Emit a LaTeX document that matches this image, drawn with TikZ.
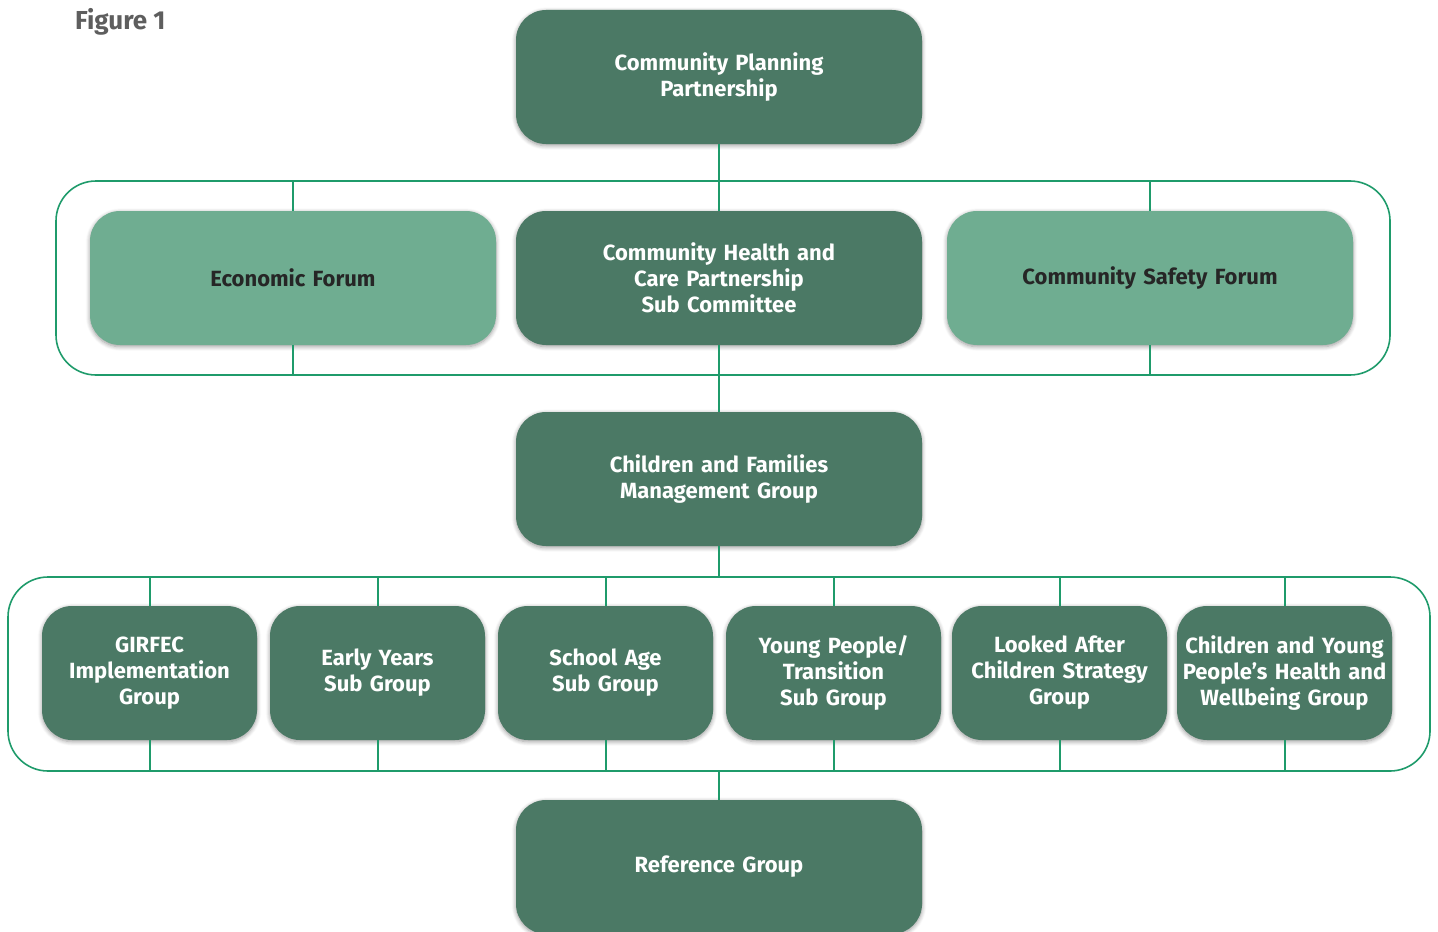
\documentclass[tikz,border=0pt]{standalone}
\usepackage{fontspec}
\setmainfont{Fira Sans}
\usepackage{xcolor}
\usetikzlibrary{positioning, fit, calc, shadows.blur}
\definecolor{boxdark}{HTML}{4B7965}
\definecolor{boxlight}{HTML}{6FAD91}
\definecolor{linegreen}{HTML}{1F9B6B}
\definecolor{figgray}{HTML}{5E5E5E}

\begin{document}
\begin{tikzpicture}[x=0.5pt, y=-0.5pt,
    orgbox/.style={rounded corners=15pt, minimum height=67pt, align=center, inner sep=0pt,
        font=\fontsize{11}{13}\selectfont\bfseries, text=white, fill=boxdark,
        blur shadow={shadow blur steps=6, shadow xshift=0pt, shadow yshift=-0.8pt, shadow opacity=40}},
    widebox/.style={orgbox, minimum width=203pt, text width=190pt},
    smallbox/.style={orgbox, minimum width=107.5pt, text width=105pt},
    lightbox/.style={fill=boxlight, text=black!85},
    framebox/.style={draw=linegreen, line width=0.8pt, rounded corners=20pt, inner sep=0pt},
    link/.style={draw=linegreen, line width=1pt}]
    \useasboundingbox (0,0) rectangle (1438,931);

    % Draw figure title
    \node[anchor=west, font=\fontsize{13}{15}\selectfont\bfseries, text=figgray] (figtitle) at (68,22) {Figure 1};

    % Draw the two frames
    \node[framebox, minimum width=667pt, minimum height=97pt] (forumframe) at (723,278) {};
    \node[framebox, minimum width=711pt, minimum height=97pt] (groupframe) at (719,674) {};

    % Draw top boxes
    \node[widebox] (cpp) at (719,77) {Community Planning\\Partnership};
    \node[widebox, lightbox] (econ) at (293,278) {Economic Forum};
    \node[widebox] (chcp) at (719,278) {Community Health and\\Care Partnership\\Sub Committee};
    \node[widebox, lightbox] (safety) at (1150,278) {Community Safety Forum};
    \node[widebox] (cfmg) at (719,479) {Children and Families\\Management Group};

    % Draw sub groups
    \node[smallbox] (girfec) at (149.5,673) {GIRFEC\\Implementation\\Group};
    \node[smallbox] (early) at (377.5,673) {Early Years\\Sub Group};
    \node[smallbox] (school) at (605.5,673) {School Age\\Sub Group};
    \node[smallbox] (young) at (833.5,673) {Young People/\\Transition\\Sub Group};
    \node[smallbox] (looked) at (1059.5,673) {Looked After\\Children Strategy\\Group};
    \node[smallbox] (health) at (1284.5,673) {Children and Young\\People’s Health and\\Wellbeing Group};

    % Draw reference group
    \node[widebox] (refgrp) at (719,867) {Reference Group};

    % Draw connectors
    \draw[link] (cpp.south) -- (chcp.north);
    \draw[link] (chcp.south) -- (cfmg.north);
    \draw[link] (cfmg.south) -- (cfmg.south |- groupframe.north);
    \draw[link] (refgrp.north |- groupframe.south) -- (refgrp.north);
    \foreach \b in {econ, safety} {
        \draw[link] (\b.north |- forumframe.north) -- (\b.north);
        \draw[link] (\b.south) -- (\b.south |- forumframe.south);
    }
    \foreach \b in {girfec, early, school, young, looked, health} {
        \draw[link] (\b.north |- groupframe.north) -- (\b.north);
        \draw[link] (\b.south) -- (\b.south |- groupframe.south);
    }
\end{tikzpicture}
\end{document}
